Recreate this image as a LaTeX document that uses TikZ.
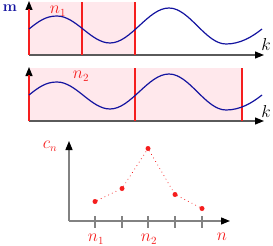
\documentclass[tikz,border=0pt]{standalone}
\usepackage{tikz}
\usetikzlibrary{arrows.meta}
\definecolor{wavec}{RGB}{20,20,160}
\definecolor{pinkc}{RGB}{255,232,236}
\definecolor{redc}{RGB}{245,30,30}
\definecolor{axc}{RGB}{90,90,90}
\definecolor{axc2}{RGB}{130,130,130}
\begin{document}
\begin{tikzpicture}[x=1pt,y=-1pt,
  axis/.style={axc,line width=1.2pt,-{Triangle[length=9pt,width=7pt,black]}},
  axisb/.style={axc2,line width=1.3pt,-{Triangle[length=9pt,width=7pt,black]}},
  redline/.style={redc,line width=1.4pt},
  wave/.style={wavec,line width=1.2pt},
  lab/.style={font=\fontsize{16}{18}\selectfont,inner sep=0pt},
  tickm/.style={axc2,line width=1.8pt},
  dotp/.style={circle,fill=redc,inner sep=0pt,minimum size=5pt}]
\useasboundingbox (0,0) rectangle (273,246);
% ---- top panel
\fill[pinkc] (29,2) rectangle (135,55);
\coordinate (o1) at (29,55);
\coordinate (x1) at (264,55);
\coordinate (y1) at (29,1);
\draw[axis] (o1) -- (x1);
\draw[axis] (o1) -- (y1);
\draw[redline] (29,55) -- (29,9);
\draw[redline] (82,55) -- (82,2);
\draw[redline] (135,55) -- (135,2);
\draw[wave] (29,29) .. controls (39,21) and (46,16) .. (57,16)
  .. controls (76,16) and (91,43) .. (110,43)
  .. controls (131,43) and (148,8) .. (169,8)
  .. controls (189.5,8) and (205.5,44) .. (226,44)
  .. controls (240,44) and (252,37) .. (262,29);
\node[lab,text=wavec,font=\fontsize{15}{17}\selectfont\bfseries] (m) at (10,8) {m};
\node[lab,text=redc] (n1a) at (58,11) {$n_1$};
\node[lab] (k1) at (266,45) {$k$};
% ---- middle panel
\fill[pinkc] (29,68) rectangle (242,121);
\coordinate (o2) at (29,121);
\coordinate (x2) at (264,121);
\coordinate (y2) at (29,67);
\draw[axis] (o2) -- (x2);
\draw[axis] (o2) -- (y2);
\draw[redline] (29,121) -- (29,75);
\draw[redline] (135,121) -- (135,68);
\draw[redline] (242,121) -- (242,68);
\begin{scope}[yshift=-66pt]
\draw[wave] (29,29) .. controls (39,21) and (46,16) .. (57,16)
  .. controls (76,16) and (91,43) .. (110,43)
  .. controls (131,43) and (148,8) .. (169,8)
  .. controls (189.5,8) and (205.5,44) .. (226,44)
  .. controls (240,44) and (252,37) .. (262,29);
\end{scope}
\node[lab,text=redc] (n2a) at (81,76) {$n_2$};
\node[lab] (k2) at (266,111) {$k$};
% ---- bottom panel
\coordinate (o3) at (69,221);
\coordinate (x3) at (230,221);
\coordinate (y3) at (69,141);
\draw[axisb] (o3) -- (x3);
\draw[axisb] (o3) -- (y3);
\foreach \xx in {95,122,148,175,202} \draw[tickm] (\xx,216) -- (\xx,228);
\node[dotp] (p1) at (95,201.5) {};
\node[dotp] (p2) at (122,188.5) {};
\node[dotp] (p3) at (148,148.5) {};
\node[dotp] (p4) at (175,194.5) {};
\node[dotp] (p5) at (202,208.5) {};
\draw[redc,line width=1pt,line cap=round,dash pattern=on 0.1pt off 4pt] (p1) -- (p2) -- (p3) -- (p4) -- (p5);
\node[lab,text=redc] (cn) at (50,146) {$c_n$};
\node[lab,text=redc] (n1b) at (96,239.5) {$n_1$};
\node[lab,text=redc] (n2b) at (149,239.5) {$n_2$};
\node[lab,text=redc] (nb) at (222,237) {$n$};
\end{tikzpicture}
\end{document}
